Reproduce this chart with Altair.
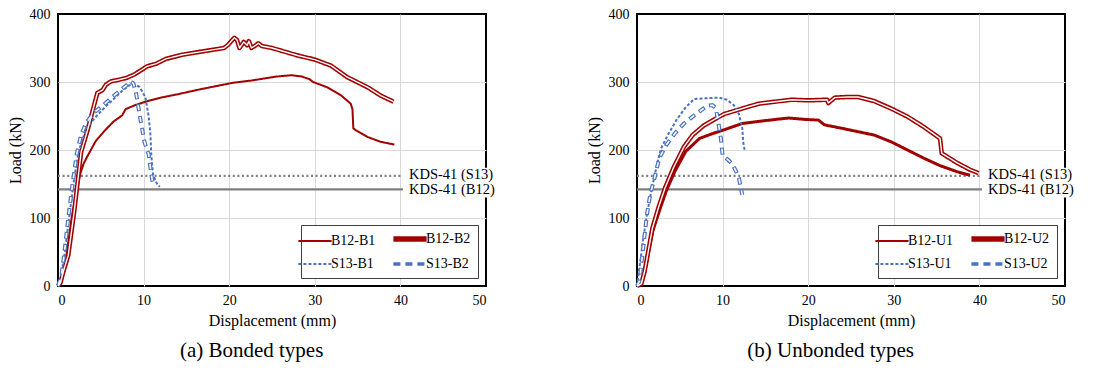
import altair as alt
import pandas as pd

FONT = "Liberation Serif"
X_TICKS = [0, 10, 20, 30, 40, 50]
Y_TICKS = [0, 100, 200, 300, 400]

KDS_LABELS = ["KDS-41 (S13)", "KDS-41 (B12)"]
KDS_LOADS = [162, 142]
KDS_LABEL_Y = [163.5, 140.5]
KDS_KIND = ["dotted", "solid"]
KDS_LINE_END = 40.3
KDS_LABEL_X = 41.0
# white backing box behind the KDS labels (x0, x1 in mm; y0, y1 in kN)
KDS_BOX = [40.9, 51.2, 130, 174]

# ---------------- (a) Bonded types ----------------
NAMES_A = ["B12-B1", "B12-B2", "S13-B1", "S13-B2"]

B12_B1_X = [0, 0.4, 0.8, 1.1, 1.6, 2.1, 2.6, 3.0, 3.4, 4.4, 5.5, 6.5, 7.5, 7.9, 9.0, 10.5,
            12.0, 14.0, 16.5, 18.5, 20.5, 22.5, 24.0, 25.5, 27.3, 28.5, 29.4, 29.8, 31.5,
            33.1, 34.2, 34.4, 34.5, 34.8, 36.2, 37.7, 39.3]
B12_B1_Y = [0, 8, 30, 55, 100, 135, 165, 180, 190, 213, 229, 242, 251, 260, 266, 272,
            277, 282, 289, 294, 299, 302, 305, 308, 310, 308, 304, 300, 292,
            280, 268, 260, 232, 229, 219, 212, 208]

B12_B2_X = [0, 0.3, 0.6, 1.2, 1.9, 2.7, 3.5, 4.2, 4.6, 5.2, 5.6, 6.2, 7.0, 8.0, 8.9, 9.8,
            10.4, 11.5, 12.6, 14.5, 16.4, 18.4, 19.4, 19.9, 20.3, 20.6, 20.9, 21.2, 21.7,
            22.1, 22.3, 22.6, 23.0, 23.4, 23.8, 25.0, 26.1, 28.0, 30.0, 31.9, 33.8, 36.2,
            37.7, 39.2]
B12_B2_Y = [0, 5, 20, 45, 110, 197, 231, 265, 284, 288, 296, 301, 303, 306, 311, 318,
            323, 327, 334, 340, 344, 348, 350, 355, 361, 365, 362, 350, 359,
            354, 360, 350, 353, 357, 353, 350, 346, 339, 333, 324, 307, 292,
            280, 271]

S13_B1_X = [0, 0.3, 0.8, 1.3, 1.8, 2.3, 2.8, 3.5, 4.5, 5.5, 6.5, 7.5, 8.3, 8.8, 9.5,
            10.2, 10.6, 10.8, 10.9, 11.1, 11.6, 11.9]
S13_B1_Y = [0, 10, 50, 100, 150, 190, 215, 235, 250, 263, 275, 287, 295, 297, 293,
            278, 249, 222, 193, 164, 149, 146]

S13_B2_X = [0, 0.4, 0.8, 1.2, 1.7, 2.2, 2.7, 3.3, 4.2, 5.2, 6.2, 7.2, 8.0, 8.5, 8.8,
            9.1, 9.4, 9.7, 10.1, 10.6, 10.9, 11.1]
S13_B2_Y = [0, 15, 55, 100, 150, 195, 222, 240, 255, 265, 276, 287, 295, 301, 298,
            285, 262, 240, 212, 193, 164, 149]

# ---------------- (b) Unbonded types ----------------
NAMES_B = ["B12-U1", "B12-U2", "S13-U1", "S13-U2"]

B12_U1_X = [0, 0.5, 0.9, 1.3, 1.85, 2.6, 3.4, 4.4, 5.7, 7.3, 8.8, 10.0, 12.3, 14.2, 16.2,
            17.7, 19.6, 21.2, 21.9, 23.9, 25.8, 27.7, 29.7, 31.6, 33.5, 35.4, 37.4, 38.9]
B12_U1_Y = [0, 3, 20, 47, 81, 110, 139, 168, 198, 217, 224, 229, 239, 242, 245,
            247, 245, 244, 237, 232, 227, 222, 212, 200, 188, 177, 168, 163]

B12_U2_X = [0, 0.5, 0.9, 1.3, 1.8, 2.5, 3.3, 4.3, 5.5, 6.5, 7.8, 9.2, 10.2, 12.3, 14.2,
            16.1, 18.1, 20.0, 22.2, 22.35, 23.1, 24.6, 25.8, 27.7, 29.7, 31.6, 33.5, 35.4,
            35.6, 36.0, 37.4, 38.9, 39.9]
B12_U2_Y = [0, 3, 22, 50, 85, 115, 145, 175, 205, 222, 236, 246, 253, 261, 268,
            271, 274, 273, 274, 269, 277, 278, 278, 272, 261, 249, 234, 217,
            195, 192, 181, 171, 166]

S13_U1_X = [0, 0.3, 0.7, 1.16, 1.66, 2.24, 2.8, 3.6, 4.6, 5.7, 6.7, 8.0, 9.6, 10.5, 11.3,
            11.9, 12.3, 12.4, 12.6]
S13_U1_Y = [0, 28, 67, 105, 139, 173, 202, 222, 244, 263, 275, 276, 277, 274, 266,
            253, 232, 212, 198]

S13_U2_X = [0, 0.3, 0.6, 0.9, 1.16, 1.54, 2.05, 2.6, 3.4, 4.4, 5.5, 6.9, 8.2, 8.8, 9.2,
            9.4, 9.8, 10.0, 10.6, 11.1, 11.6, 11.9, 12.3]
S13_U2_Y = [0, 8, 42, 76, 105, 134, 159, 188, 207, 224, 239, 253, 265, 266, 262,
            248, 217, 192, 186, 180, 168, 159, 134]

# ---------------- styles ----------------
DARK_RED = "#a00000"
BLUE = "#4a72c0"
COLORS = [DARK_RED, DARK_RED, BLUE, BLUE]
DASHES = [[1, 0], [1, 0], [3, 2], [7, 5]]


def build_df(names, xs_list, ys_list, widths):
    rows = []
    for n, xs, ys, w in zip(names, xs_list, ys_list, widths):
        for i, (x, y) in enumerate(zip(xs, ys)):
            rows.append({"series": n, "x": x, "y": y, "i": i, "w": w})
    return pd.DataFrame(rows)


def grid_cond(lo, hi):
    return {"condition": {"test": f"datum.value === {lo} || datum.value === {hi}", "value": 0}, "value": 1}


def panel(df, names, caption):
    xs = alt.Scale(domain=[0, 50], nice=False)
    ys = alt.Scale(domain=[0, 400], nice=False)
    x_axis = alt.Axis(values=X_TICKS, title="Displacement (mm)", gridOpacity=grid_cond(0, 50))
    y_axis = alt.Axis(values=Y_TICKS, title="Load (kN)", gridOpacity=grid_cond(0, 400))

    kds = pd.DataFrame({"label": KDS_LABELS, "load": KDS_LOADS, "ly": KDS_LABEL_Y,
                        "kind": KDS_KIND, "x0": [0, 0], "x1": [KDS_LINE_END] * 2,
                        "tx": [KDS_LABEL_X] * 2})
    kb = alt.Chart(kds)
    rule_dot = kb.transform_filter(alt.datum.kind == "dotted").mark_rule(
        color="#7f7f7f", strokeWidth=2.4, strokeDash=[2, 2.6]).encode(
        x=alt.X("x0:Q", scale=xs, axis=x_axis), x2="x1:Q",
        y=alt.Y("load:Q", scale=ys, axis=y_axis))
    rule_solid = kb.transform_filter(alt.datum.kind == "solid").mark_rule(
        color="#7f7f7f", strokeWidth=2.2).encode(
        x=alt.X("x0:Q", scale=xs, axis=x_axis), x2="x1:Q",
        y=alt.Y("load:Q", scale=ys, axis=y_axis))

    sw_expr = (f"datum.value === '{names[1]}' ? 5.5 : "
               f"(datum.value === '{names[3]}' ? 3.5 : 2.2)")
    dash_expr = (f"datum.value === '{names[2]}' ? [3, 2] : "
                 f"(datum.value === '{names[3]}' ? [7, 4] : [1, 0])")
    legend = alt.Legend(title=None, orient="bottom-right", offset=8, columns=2,
                        direction="horizontal",
                        symbolType="stroke", symbolSize=1100, labelFont=FONT,
                        labelFontSize=14, labelColor="black", strokeColor="#404040",
                        fillColor="white", padding=7, rowPadding=7, columnPadding=6,
                        labelOffset=9, symbolStrokeWidth={"expr": sw_expr},
                        symbolDash={"expr": dash_expr})

    main = alt.Chart(df).mark_line(strokeJoin="round").encode(
        x=alt.X("x:Q", scale=xs, axis=x_axis),
        y=alt.Y("y:Q", scale=ys, axis=y_axis),
        color=alt.Color("series:N", scale=alt.Scale(domain=names, range=COLORS), legend=legend),
        strokeDash=alt.StrokeDash("series:N", scale=alt.Scale(domain=names, range=DASHES), legend=None),
        strokeWidth=alt.StrokeWidth("w:Q", scale=None),
        order=alt.Order("i:Q"),
    )
    hollow_solid = alt.Chart(df).transform_filter(alt.datum.series == names[1]).mark_line(
        color="white", strokeWidth=1.4, strokeJoin="round").encode(
        x=alt.X("x:Q", scale=xs, axis=x_axis), y=alt.Y("y:Q", scale=ys, axis=y_axis),
        order=alt.Order("i:Q"))
    hollow_dash = alt.Chart(df).transform_filter(alt.datum.series == names[3]).mark_line(
        color="white", strokeWidth=1.6, strokeDash=[5, 7], strokeDashOffset=-1).encode(
        x=alt.X("x:Q", scale=xs, axis=x_axis), y=alt.Y("y:Q", scale=ys, axis=y_axis),
        order=alt.Order("i:Q"))

    box_df = pd.DataFrame({"bx0": [KDS_BOX[0]], "bx1": [KDS_BOX[1]],
                           "by0": [KDS_BOX[2]], "by1": [KDS_BOX[3]]})
    box = alt.Chart(box_df).mark_rect(color="white").encode(
        x=alt.X("bx0:Q", scale=xs, axis=x_axis), x2="bx1:Q",
        y=alt.Y("by0:Q", scale=ys, axis=y_axis), y2="by1:Q")
    txt = kb.mark_text(align="left", baseline="middle", font=FONT, fontSize=14.5,
                       color="black").encode(
        x=alt.X("tx:Q", scale=xs, axis=x_axis), y=alt.Y("ly:Q", scale=ys, axis=y_axis),
        text="label:N")

    return alt.layer(rule_dot, rule_solid, main, hollow_solid, hollow_dash, box, txt).properties(
        width=428, height=272,
        title=alt.TitleParams(caption, orient="bottom", offset=12, anchor="middle", frame="bounds"))


df_a = build_df(NAMES_A, [B12_B1_X, B12_B2_X, S13_B1_X, S13_B2_X],
                [B12_B1_Y, B12_B2_Y, S13_B1_Y, S13_B2_Y], [2, 4.5, 2, 4.0])
df_b = build_df(NAMES_B, [B12_U1_X, B12_U2_X, S13_U1_X, S13_U2_X],
                [B12_U1_Y, B12_U2_Y, S13_U1_Y, S13_U2_Y], [3, 4.5, 2, 4.0])

left = panel(df_a, NAMES_A, "(a) Bonded types")
right = panel(df_b, NAMES_B, "(b) Unbonded types")

chart = alt.hconcat(left, right, spacing=151, bounds="flush").resolve_scale(
    color="independent", strokeDash="independent", x="independent", y="independent"
).properties(padding={"left": -2, "top": -2, "right": 0, "bottom": 0}).configure_view(
    stroke="black", strokeWidth=2
).configure_axis(
    grid=True, gridColor="#d9d9d9", gridWidth=1, domain=False, ticks=False,
    labelFont=FONT, labelFontSize=14, labelColor="black",
    titleFont=FONT, titleFontSize=16, titleFontWeight="normal", titleColor="black"
).configure_axisX(labelPadding=7, titlePadding=5).configure_axisY(
    labelPadding=8, titlePadding=6
).configure_title(font=FONT, fontSize=21, fontWeight="normal", color="black")

chart.save("out.html", embed_options={"renderer": "svg", "actions": False})
